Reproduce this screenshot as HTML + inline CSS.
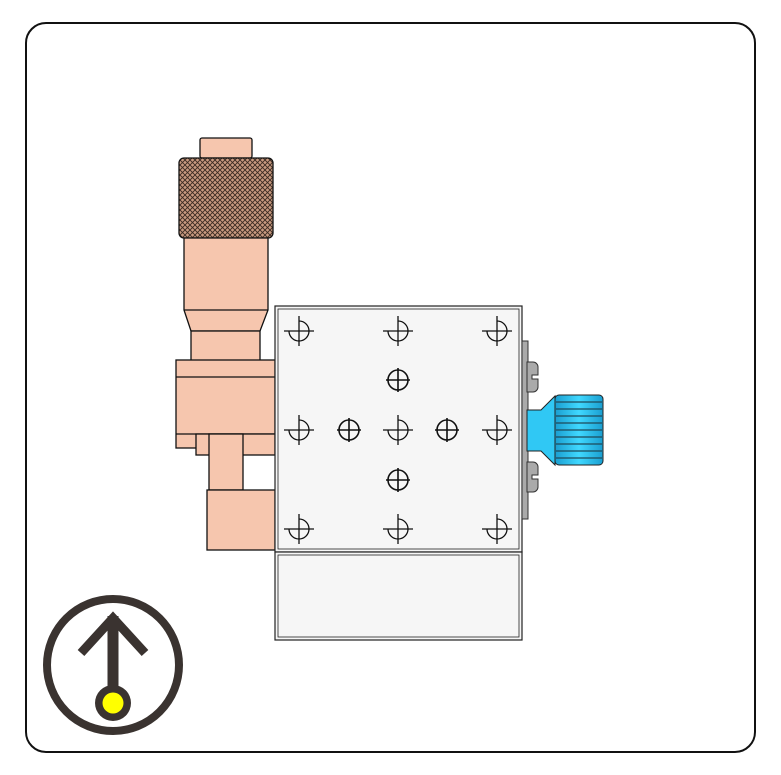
<!DOCTYPE html>
<html><head><style>html,body{margin:0;padding:0;background:#fff}svg{display:block}</style></head><body>
<svg width="781" height="775" viewBox="0 0 781 775" xmlns="http://www.w3.org/2000/svg">
<defs>
<pattern id="kn" width="5" height="5" patternUnits="userSpaceOnUse">
<rect width="5" height="5" fill="#c89a80"/>
<path d="M0 0L5 5M5 0L0 5" stroke="#3a2a22" stroke-width="0.9"/>
</pattern>
<linearGradient id="bl" x1="0" y1="0" x2="1" y2="0"><stop offset="0" stop-color="#1a9ed0"/><stop offset="0.5" stop-color="#40d8ff"/><stop offset="1" stop-color="#1a9ed0"/></linearGradient>
<g id="c"><path d="M-15 0H15M0 -15V15"/><path d="M0 -10A10 10 0 1 1 -10 0"/></g>
</defs>
<rect x="26" y="23" width="729" height="729" rx="20" fill="#fff" stroke="#111" stroke-width="2"/>
<g stroke="#111" stroke-width="1.3" fill="#f6c6ae">
<rect x="200" y="138" width="52" height="20" rx="2"/>
<rect x="179" y="158" width="94" height="80" rx="5" fill="url(#kn)"/>
<path d="M184 238H268V310L260 331H191L184 310Z"/>
<line x1="184" y1="310" x2="268" y2="310"/>
<rect x="191" y="331" width="69" height="46"/>
<rect x="176" y="360" width="99" height="88"/>
<line x1="176" y1="377" x2="275" y2="377"/>
<line x1="176" y1="434" x2="275" y2="434"/>
<rect x="196" y="434" width="79" height="21"/>
<rect x="209" y="434" width="34" height="56"/>
<rect x="207" y="490" width="68" height="60"/>
</g>
<g stroke="#222" stroke-width="1.2" fill="#f6f6f6">
<rect x="275" y="306" width="247" height="246"/>
<rect x="278" y="309" width="241" height="240" fill="none" stroke-width="0.8"/>
<rect x="275" y="552" width="247" height="88"/>
<rect x="278" y="555" width="241" height="82" fill="none" stroke-width="0.8"/>
</g>
<g stroke="#333" stroke-width="1" fill="#aaa">
<rect x="522" y="341" width="6" height="178"/>
<path d="M527 362h6a5 5 0 0 1 5 5v8h-6v4h6v8a5 5 0 0 1 -5 5h-6z"/>
<path d="M527 462h6a5 5 0 0 1 5 5v8h-6v4h6v8a5 5 0 0 1 -5 5h-6z"/>
</g>
<path d="M527 410H541L555 396V465L541 451H527Z" fill="#30c8f4" stroke="#222" stroke-width="1"/>
<rect x="555" y="395" width="48" height="70" rx="4" fill="url(#bl)" stroke="#222" stroke-width="1"/>
<g stroke="#1e4a5a" stroke-width="1.2">
<line x1="556" y1="402" x2="602" y2="402"/><line x1="556" y1="409" x2="602" y2="409"/><line x1="556" y1="416" x2="602" y2="416"/><line x1="556" y1="423" x2="602" y2="423"/><line x1="556" y1="430" x2="602" y2="430"/><line x1="556" y1="437" x2="602" y2="437"/><line x1="556" y1="444" x2="602" y2="444"/><line x1="556" y1="451" x2="602" y2="451"/><line x1="556" y1="458" x2="602" y2="458"/>
</g>
<g stroke="#111" stroke-width="1.3" fill="none">
<use href="#c" x="299" y="331"/><use href="#c" x="398" y="331"/><use href="#c" x="497" y="331"/>
<use href="#c" x="299" y="430"/><use href="#c" x="398" y="430"/><use href="#c" x="497" y="430"/>
<use href="#c" x="299" y="529"/><use href="#c" x="398" y="529"/><use href="#c" x="497" y="529"/>
<g stroke-width="1.6">
<circle cx="398" cy="380" r="10"/><path d="M386 380h24M398 368v24"/>
<circle cx="349" cy="430" r="10"/><path d="M337 430h24M349 418v24"/>
<circle cx="447" cy="430" r="10"/><path d="M435 430h24M447 418v24"/>
<circle cx="398" cy="480" r="10"/><path d="M386 480h24M398 468v24"/>
</g>
</g>
<circle cx="113" cy="665" r="66" fill="none" stroke="#3a3330" stroke-width="8"/>
<path d="M81 653L113 618L145 653" fill="none" stroke="#3a3330" stroke-width="9"/>
<line x1="113" y1="616" x2="113" y2="695" stroke="#3a3330" stroke-width="11"/>
<circle cx="113" cy="703" r="18" fill="#3a3330"/>
<circle cx="113" cy="703" r="10.5" fill="#ffff00"/>
</svg>
</body></html>
